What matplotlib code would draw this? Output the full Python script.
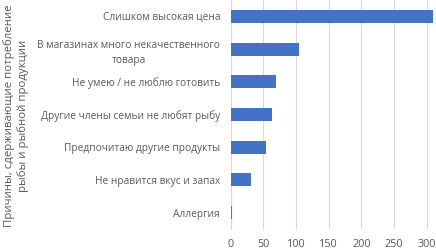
import matplotlib
matplotlib.use("Agg")
import matplotlib.pyplot as plt

plt.rcParams['font.family'] = ['Open Sans', 'DejaVu Sans']

categories = [
    "Слишком высокая цена",
    "В магазинах много некачественного\nтовара",
    "Не умею / не люблю готовить",
    "Другие члены семьи не любят рыбу",
    "Предпочитаю другие продукты",
    "Не нравится вкус и запах",
    "Аллергия",
]
values = [310, 105, 69, 63, 54, 32, 2]
xticks = [0, 50, 100, 150, 200, 250, 300]
ylabel = "Причины, сдерживающие потребление\nрыбы и рыбной продукции"

fig = plt.figure(figsize=(4.36, 2.49), dpi=100)
ax = fig.add_axes([230.5/436, 1 - 229/249, (436 - 230.5)/436, 229/249])

ypos = list(range(len(categories)))
ax.barh(ypos, values, height=0.4, color="#4472C4", zorder=3)
ax.set_ylim(len(categories) - 0.5, -0.5)
ax.set_xlim(0, 314)
ax.set_xticks(xticks)
ax.set_xticklabels([str(t) for t in xticks], fontsize=7.8, color="#595959")
ax.set_yticks(ypos)
ax.set_yticklabels(categories, fontsize=7.3, color="#595959", ha="right",
                   multialignment="center", linespacing=1.5)
ax.tick_params(axis="y", length=0, pad=7.5)
ax.tick_params(axis="x", length=0, pad=7.5)
ax.grid(axis="x", color="#d9d9d9", linewidth=0.8, zorder=0)
for s in ["top", "right", "bottom"]:
    ax.spines[s].set_visible(False)
ax.spines["left"].set_color("#d9d9d9")
ax.spines["left"].set_linewidth(0.8)

fig.text(16/436, 1 - 116/249, ylabel, rotation=90, ha="center", va="center",
         fontsize=8.2, color="#595959", multialignment="center", linespacing=1.3)

fig.savefig("out.png", dpi=100)
